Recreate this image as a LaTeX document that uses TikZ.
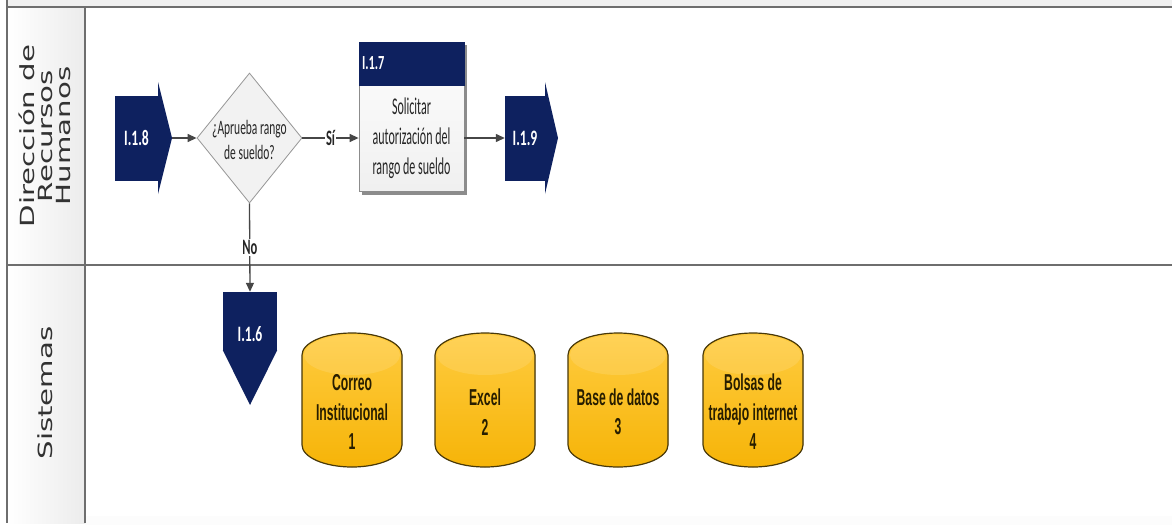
\documentclass[tikz,border=0pt]{standalone}
\usepackage{fontspec}
\usetikzlibrary{arrows.meta,shapes.geometric,shadows}
\newfontfamily\boxfont[FakeStretch=0.5]{Carlito}
\newfontfamily\decfont[FakeStretch=0.56]{Carlito}
\newfontfamily\idfont[FakeStretch=0.62]{Carlito}
\newfontfamily\tagfont[FakeStretch=0.57]{Carlito}
\newfontfamily\dbfont[FakeStretch=0.53]{Liberation Sans}
\newfontfamily\lanefont[FakeStretch=1.5]{DejaVu Sans}

\definecolor{idnavy}{RGB}{14,33,95}
\definecolor{flowline}{RGB}{70,70,70}
\definecolor{laneline}{RGB}{110,110,110}
\definecolor{pagegray}{RGB}{240,240,240}
\definecolor{decfill}{RGB}{242,242,242}
\definecolor{decdraw}{RGB}{150,150,150}
\definecolor{procdraw}{RGB}{140,140,140}
\definecolor{dbtop}{RGB}{255,204,64}
\definecolor{dbbot}{RGB}{246,180,8}
\definecolor{dbedge}{RGB}{72,56,8}
\definecolor{dbink}{RGB}{40,30,0}
\definecolor{laneink}{RGB}{50,50,50}

\begin{document}
\begin{tikzpicture}[x=1pt,y=-1pt,
  lane/.style={draw=laneline, line width=2pt},
  lanelabel/.style={rotate=90, align=center, text=laneink, inner sep=0pt,
    font=\lanefont\fontsize{19.5}{18}\selectfont},
  idbody/.style={fill=idnavy, inner sep=0pt, text=white,
    font=\idfont\bfseries\fontsize{22}{26}\selectfont},
  idtext/.style={inner sep=0pt, text=white,
    font=\idfont\bfseries\fontsize{22}{26}\selectfont},
  decision/.style={diamond, draw=decdraw, fill=decfill, line width=0.8pt,
    minimum width=105pt, minimum height=130pt, inner sep=0pt},
  dectext/.style={align=center, inner sep=0pt, text=black!85,
    font=\decfont\fontsize{20.5}{25}\selectfont},
  procbody/.style={draw=procdraw, line width=0.8pt, top color=gray!4, bottom color=gray!12,
    minimum width=105pt, minimum height=107pt, inner sep=0pt, align=center,
    text=black!85, font=\boxfont\fontsize{24}{30}\selectfont},
  prochead/.style={fill=idnavy, draw=idnavy, line width=0.8pt, text=white,
    text width=99pt, minimum height=43pt, inner xsep=3pt, inner ysep=0pt, align=left,
    font=\idfont\bfseries\fontsize{20}{24}\selectfont},
  flow/.style={draw=flowline, line width=1.3pt, -{Triangle[length=9pt,width=8pt]}},
  tag/.style={fill=white, inner sep=1pt, text=black!85,
    font=\tagfont\bfseries\fontsize{22}{26}\selectfont},
  dbshape/.style={draw=dbedge, line width=1.2pt, top color=dbtop, bottom color=dbbot},
  dbtext/.style={align=center, inner sep=0pt, text=dbink,
    font=\dbfont\bfseries\fontsize{23}{29.5}\selectfont}
]
\useasboundingbox (0,0) rectangle (1172,525);

% page and swimlane frame
\fill[white] (0,0) rectangle (1172,525);
\fill[pagegray] (7,0) rectangle (1172,7);
\fill[gray!2] (85,516) rectangle (1172,525);
\shade[left color=white, right color=gray!15] (7,7) rectangle (85,523);
\draw[lane] (7,7) -- (1172,7);
\draw[lane] (7,265) -- (1172,265);
\draw[lane] (7,0) -- (7,523);
\draw[lane] (85,7) -- (85,523);

\node[lanelabel] (laneRH) at (45,136) {Dirección de\\Recursos\\Humanos};
\node[lanelabel] (laneSis) at (45,393) {Sistemas};

% off-page connector I.1.8
\node[idbody, minimum width=43pt, minimum height=85pt] (i18) at (136.5,138) {I.1.8};
\fill[idnavy] (158,82) -- (172,138) -- (158,194) -- cycle;
\coordinate (i18tip) at (172,138);

% decision
\node[decision] (dec) at (249.5,138) {};
\node[dectext] (dectxt) at (249.5,139.5) {¿Aprueba rango\\de sueldo?};

% process I.1.7
\fill[black!45] (362,45) rectangle (467,195);
\node[procbody] (proc) at (411.5,138) {Solicitar\\autorización del\\rango de sueldo};
\node[prochead] (prochd) at (411.5,63.5) {I.1.7};

% off-page connector I.1.9
\node[idbody, minimum width=40pt, minimum height=85pt] (i19) at (525,138) {I.1.9};
\fill[idnavy] (545,82) -- (558,138) -- (545,194) -- cycle;

% off-page connector I.1.6
\node[idbody, minimum width=54pt, minimum height=58pt] (i16) at (250,321) {};
\fill[idnavy] (i16.south west) -- (250,405) -- (i16.south east) -- cycle;
\node[idtext] (i16txt) at (250,334) {I.1.6};

% flow connectors
\draw[flow] (i18tip) -- (dec.west);
\draw[flow] (dec.east) -- node[tag] (si) {Sí} (proc.west);
\draw[flow] (proc.east) -- (i19.west);
\draw[flow] (dec.south) -- node[tag] (no) {No} (i16.north);

% data stores
\foreach \cx/\nm/\txt in {352/db1/{Correo\\Institucional\\1},
                          485/db2/{Excel\\2},
                          618/db3/{Base de datos\\3},
                          753/db4/{Bolsas de\\trabajo internet\\4}}{
  \filldraw[dbshape] (\cx-50,355) arc[start angle=180, end angle=360, x radius=50, y radius=22]
    -- (\cx+50,445) arc[start angle=0, end angle=180, x radius=50, y radius=22] -- cycle;
  \fill[white, opacity=0.12] (\cx,355) ellipse[x radius=48, y radius=20];
  \node[dbtext] (\nm) at (\cx,412) {\txt};
}
\end{tikzpicture}
\end{document}
